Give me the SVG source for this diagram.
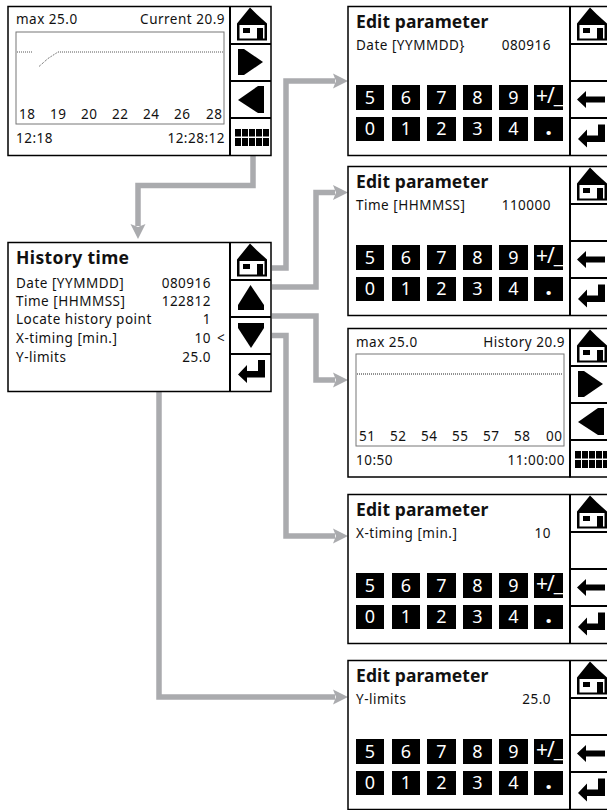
<svg xmlns="http://www.w3.org/2000/svg" width="607" height="810" viewBox="0 0 607 810">
<style>
text{font-family:"Noto Sans","Open Sans",sans-serif;font-size:13.500px;letter-spacing:.5px;fill:#111}
.t{font-size:17.500px;font-weight:700;letter-spacing:.1px}
.e{text-anchor:end}
.k{font-size:18px;letter-spacing:0;fill:#fff;text-anchor:middle}
.p{fill:#fff;stroke:#000;stroke-width:1.500}
.d{fill:none;stroke:#000;stroke-width:2}
.c{fill:none;stroke:#aaabae;stroke-width:5.500}
.g{fill:#fff;stroke:#777;stroke-width:1}
.l{fill:none;stroke:#555;stroke-width:1;stroke-dasharray:1 1}
</style>
<defs>
<marker id="a" markerUnits="userSpaceOnUse" markerWidth="16" markerHeight="16" refX="2" refY="8" orient="auto"><path d="M0 .5L15 8L0 15.500L3 8Z" fill="#aaabae"/></marker>
<g id="home"><path d="M20 1L27 8L37 17V34H7V17Z"/><rect x="9.500" y="18.500" width="25" height="13.500" fill="#fff"/><rect x="13" y="21.500" width="7" height="5"/><rect x="27" y="21.500" width="6" height="12"/></g>
<path id="right" d="M8 0H14L33 13L14 26H8Z"/>
<path id="left" d="M34 0V27H28L8 14L28 0Z"/>
<path id="up" d="M20.500 0L34 20V25H8V20Z"/>
<path id="down" d="M8 0H34V5L21 25L8 5Z"/>
<path id="back" d="M7 13L16 4.500V10H35V16H16V21.500Z"/>
<path id="enter" d="M8 14.500L17 5V11H28V0H35V17.500H17V23Z"/>
<g id="grid"><rect x="5" y="0" width="6" height="7.500"/><rect x="12" y="0" width="6" height="7.500"/><rect x="19" y="0" width="6" height="7.500"/><rect x="26" y="0" width="6" height="7.500"/><rect x="33" y="0" width="6" height="7.500"/><rect x="5" y="9" width="6" height="8"/><rect x="12" y="9" width="6" height="8"/><rect x="19" y="9" width="6" height="8"/><rect x="26" y="9" width="6" height="8"/><rect x="33" y="9" width="6" height="8"/></g>
<g id="keys">
<rect x="8" y="78.500" width="28" height="25"/><rect x="44" y="78.500" width="28" height="25"/><rect x="79" y="78.500" width="29" height="25"/><rect x="115" y="78.500" width="29" height="25"/><rect x="151" y="78.500" width="29" height="25"/><rect x="186" y="78.500" width="29" height="25"/>
<rect x="8" y="110.500" width="28" height="24"/><rect x="44" y="110.500" width="28" height="24"/><rect x="79" y="110.500" width="29" height="24"/><rect x="115" y="110.500" width="29" height="24"/><rect x="151" y="110.500" width="29" height="24"/><rect x="186" y="110.500" width="29" height="24"/>
<text class="k" x="22" y="97">5</text><text class="k" x="58" y="97">6</text><text class="k" x="93.500" y="97">7</text><text class="k" x="129.500" y="97">8</text><text class="k" x="165.500" y="97">9</text><text class="k" x="201" y="96" style="font-size:21px;letter-spacing:-1px">+/_</text>
<text class="k" x="22" y="128">0</text><text class="k" x="58" y="128">1</text><text class="k" x="93.500" y="128">2</text><text class="k" x="129.500" y="128">3</text><text class="k" x="165.500" y="128">4</text><text class="k" x="200.500" y="128" style="font-size:24px;font-weight:700">.</text>
</g>
<g id="editframe"><rect class="p" x="0" y="0" width="270" height="149"/><path class="d" d="M222 0V149M222 37.500H270M222 74.500H270M222 111.500H270"/><use href="#home" x="222" y="0"/><use href="#back" x="222" y="80"/><use href="#enter" x="222" y="118"/><use href="#keys"/><text class="t" x="8" y="21">Edit parameter</text></g>
<g id="graphside"><path class="d" d="M222 0V149M222 37.500H263M222 74.500H263M222 111.500H263"/><use href="#home" x="222" y="0"/><use href="#right" x="222" y="42.500"/><use href="#left" x="222" y="79.500"/><use href="#grid" x="222" y="122.500"/></g>
</defs>
<g id="connectors">
<path class="c" marker-end="url(#a)" d="M253 155V185.500H138V226"/>
<path class="c" marker-end="url(#a)" d="M272 268H286V81H335"/>
<path class="c" marker-end="url(#a)" d="M272 287H316V192.500H335"/>
<path class="c" marker-end="url(#a)" d="M272 316H316V380H335"/>
<path class="c" marker-end="url(#a)" d="M272 335.500H286V536H335"/>
<path class="c" marker-end="url(#a)" d="M159 391V697H335"/>
</g>
<g id="current-graph" transform="translate(8,6.500)">
<rect class="p" x="0" y="0" width="263" height="149"/>
<rect class="g" x="8" y="25.500" width="208" height="92"/>
<path class="l" d="M9 45.500H25M31 60L40 52L50 45.500H215"/>
<text x="8" y="17.500">max 25.0</text><text class="e" x="217" y="17.500">Current 20.9</text>
<text x="11" y="112.500">18</text><text x="42" y="112.500">19</text><text x="73" y="112.500">20</text><text x="104" y="112.500">22</text><text x="135" y="112.500">24</text><text x="166" y="112.500">26</text><text x="198" y="112.500">28</text>
<text x="8" y="136.500">12:18</text><text class="e" x="217" y="136.500">12:28:12</text>
<use href="#graphside"/>
</g>
<g id="edit-date" transform="translate(348,6.500)"><use href="#editframe"/><text x="8" y="43.500">Date [YYMMDD}</text><text class="e" x="203" y="43.500">080916</text></g>
<g id="edit-time" transform="translate(348,166.500)"><use href="#editframe"/><text x="8" y="43.500">Time [HHMMSS]</text><text class="e" x="203" y="43.500">110000</text></g>
<g id="history-graph" transform="translate(348,328.500)">
<rect class="p" x="0" y="0" width="270" height="148.500"/>
<rect class="g" x="8" y="25.500" width="208" height="92"/>
<path class="l" d="M9 45.500H215" style="stroke:#222"/>
<text x="8" y="18">max 25.0</text><text class="e" x="217" y="18">History 20.9</text>
<text x="11" y="112.500">51</text><text x="42" y="112.500">52</text><text x="73" y="112.500">54</text><text x="104" y="112.500">55</text><text x="135" y="112.500">57</text><text x="166" y="112.500">58</text><text x="198" y="112.500">00</text>
<text x="8" y="136.500">10:50</text><text class="e" x="217" y="136.500">11:00:00</text>
<use href="#graphside"/>
</g>
<g id="edit-xtiming" transform="translate(348,494.500)"><use href="#editframe"/><text x="8" y="43.500">X-timing [min.]</text><text class="e" x="203" y="43.500">10</text></g>
<g id="edit-ylimits" transform="translate(348,660.500)"><use href="#editframe"/><text x="8" y="43.500">Y-limits</text><text class="e" x="203" y="43.500">25.0</text></g>
<g id="history-time" transform="translate(8,242.500)">
<rect class="p" x="0" y="0" width="263" height="149"/>
<path class="d" d="M222 0V149M222 37.500H263M222 74.500H263M222 111.500H263"/>
<text class="t" x="8" y="21" style="letter-spacing:.4px">History time</text>
<text x="8" y="45">Date [YYMMDD]</text><text class="e" x="203" y="45">080916</text>
<text x="8" y="63">Time [HHMMSS]</text><text class="e" x="203" y="63">122812</text>
<text x="8" y="81">Locate history point</text><text class="e" x="203" y="81">1</text>
<text x="8" y="100">X-timing [min.]</text><text class="e" x="203" y="100">10</text><text x="209" y="100">&lt;</text>
<text x="8" y="119">Y-limits</text><text class="e" x="203" y="119">25.0</text>
<use href="#home" x="222" y="0"/><use href="#up" x="222" y="42.500"/><use href="#down" x="222" y="80.500"/><use href="#enter" x="222" y="117.500"/>
</g>
</svg>
